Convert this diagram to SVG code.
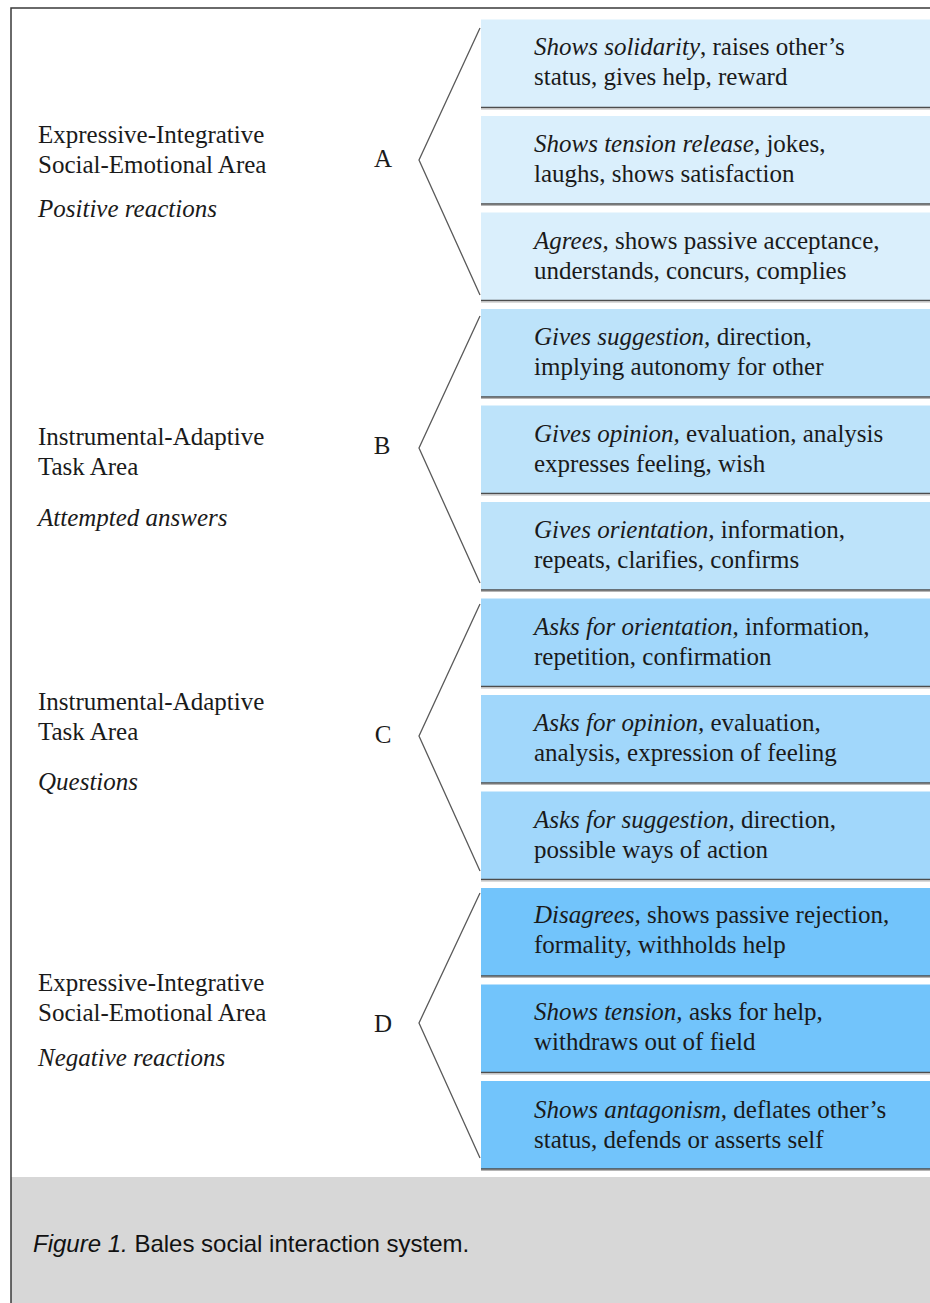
<svg xmlns="http://www.w3.org/2000/svg" width="930" height="1303" viewBox="0 0 930 1303">
<style>
.t{font-family:"Liberation Serif","Times New Roman",serif;font-size:25px;fill:#1a1a1a}
.i{font-style:italic}
.cap{font-family:"Liberation Sans",Arial,sans-serif;font-size:24px;fill:#111}
.sep{stroke:#4d4d4d;stroke-width:1.6}
.sh{stroke:#b5b5b5;stroke-width:1}
.chev{fill:none;stroke:#5a5a5a;stroke-width:1.3}
.fa{fill:#daeffc}.fb{fill:#bde3fa}.fc{fill:#a1d7fb}.fd{fill:#72c4fb}
</style>
<rect x="0" y="0" width="930" height="1303" fill="#ffffff"/>
<rect id="caption-area" x="11" y="1177" width="919" height="126" fill="#d7d7d7"/>
<path d="M11 1303 V8 H930" fill="none" stroke="#3a3a3a" stroke-width="1.5"/>

<g id="connectors">
<polyline class="chev" points="480,28 419,160 480,295"/>
<polyline class="chev" points="480,316 419,448 480,583"/>
<polyline class="chev" points="480,604 419,736 480,871"/>
<polyline class="chev" points="480,893 419,1023 480,1158"/>
</g>

<g id="group-A">
<text class="t" x="38" y="143">Expressive-Integrative</text>
<text class="t" x="38" y="173">Social-Emotional Area</text>
<text class="t i" x="38" y="217">Positive reactions</text>
<text class="t" x="383" y="167" text-anchor="middle">A</text>
</g>
<g id="group-B">
<text class="t" x="38" y="445">Instrumental-Adaptive</text>
<text class="t" x="38" y="475">Task Area</text>
<text class="t i" x="38" y="526">Attempted answers</text>
<text class="t" x="382" y="454" text-anchor="middle">B</text>
</g>
<g id="group-C">
<text class="t" x="38" y="710">Instrumental-Adaptive</text>
<text class="t" x="38" y="740">Task Area</text>
<text class="t i" x="38" y="790">Questions</text>
<text class="t" x="383" y="743" text-anchor="middle">C</text>
</g>
<g id="group-D">
<text class="t" x="38" y="991">Expressive-Integrative</text>
<text class="t" x="38" y="1021">Social-Emotional Area</text>
<text class="t i" x="38" y="1066">Negative reactions</text>
<text class="t" x="383" y="1032" text-anchor="middle">D</text>
</g>

<g id="box-A1">
<rect class="fa" x="481" y="19.5" width="449" height="88"/>
<line class="sep" x1="481" y1="107.5" x2="930" y2="107.5"/><line class="sh" x1="481" y1="109" x2="930" y2="109"/>
<text class="t" x="534" y="55"><tspan class="i">Shows solidarity</tspan>, raises other’s</text>
<text class="t" x="534" y="85">status, gives help, reward</text>
</g>
<g id="box-A2">
<rect class="fa" x="481" y="116" width="449" height="88"/>
<line class="sep" x1="481" y1="204" x2="930" y2="204"/><line class="sh" x1="481" y1="205.5" x2="930" y2="205.5"/>
<text class="t" x="534" y="152"><tspan class="i">Shows tension release,</tspan> jokes,</text>
<text class="t" x="534" y="182">laughs, shows satisfaction</text>
</g>
<g id="box-A3">
<rect class="fa" x="481" y="212.5" width="449" height="88"/>
<line class="sep" x1="481" y1="300.5" x2="930" y2="300.5"/><line class="sh" x1="481" y1="302" x2="930" y2="302"/>
<text class="t" x="534" y="248.5"><tspan class="i">Agrees,</tspan> shows passive acceptance,</text>
<text class="t" x="534" y="278.5">understands, concurs, complies</text>
</g>
<g id="box-B1">
<rect class="fb" x="481" y="309" width="449" height="88"/>
<line class="sep" x1="481" y1="397" x2="930" y2="397"/><line class="sh" x1="481" y1="398.5" x2="930" y2="398.5"/>
<text class="t" x="534" y="345"><tspan class="i">Gives suggestion,</tspan> direction,</text>
<text class="t" x="534" y="375">implying autonomy for other</text>
</g>
<g id="box-B2">
<rect class="fb" x="481" y="405.5" width="449" height="88"/>
<line class="sep" x1="481" y1="493.5" x2="930" y2="493.5"/><line class="sh" x1="481" y1="495" x2="930" y2="495"/>
<text class="t" x="534" y="441.5"><tspan class="i">Gives opinion,</tspan> evaluation, analysis</text>
<text class="t" x="534" y="471.5">expresses feeling, wish</text>
</g>
<g id="box-B3">
<rect class="fb" x="481" y="502" width="449" height="88"/>
<line class="sep" x1="481" y1="590" x2="930" y2="590"/><line class="sh" x1="481" y1="591.5" x2="930" y2="591.5"/>
<text class="t" x="534" y="538"><tspan class="i">Gives orientation,</tspan> information,</text>
<text class="t" x="534" y="568">repeats, clarifies, confirms</text>
</g>
<g id="box-C1">
<rect class="fc" x="481" y="598.5" width="449" height="88"/>
<line class="sep" x1="481" y1="686.5" x2="930" y2="686.5"/><line class="sh" x1="481" y1="688" x2="930" y2="688"/>
<text class="t" x="534" y="634.5"><tspan class="i">Asks for orientation,</tspan> information,</text>
<text class="t" x="534" y="664.5">repetition, confirmation</text>
</g>
<g id="box-C2">
<rect class="fc" x="481" y="695" width="449" height="88"/>
<line class="sep" x1="481" y1="783" x2="930" y2="783"/><line class="sh" x1="481" y1="784.5" x2="930" y2="784.5"/>
<text class="t" x="534" y="731"><tspan class="i">Asks for opinion,</tspan> evaluation,</text>
<text class="t" x="534" y="761">analysis, expression of feeling</text>
</g>
<g id="box-C3">
<rect class="fc" x="481" y="791.5" width="449" height="88"/>
<line class="sep" x1="481" y1="879.5" x2="930" y2="879.5"/><line class="sh" x1="481" y1="881" x2="930" y2="881"/>
<text class="t" x="534" y="827.5"><tspan class="i">Asks for suggestion,</tspan> direction,</text>
<text class="t" x="534" y="857.5">possible ways of action</text>
</g>
<g id="box-D1">
<rect class="fd" x="481" y="888" width="449" height="88"/>
<line class="sep" x1="481" y1="976" x2="930" y2="976"/><line class="sh" x1="481" y1="977.5" x2="930" y2="977.5"/>
<text class="t" x="534" y="923"><tspan class="i">Disagrees,</tspan> shows passive rejection,</text>
<text class="t" x="534" y="953">formality, withholds help</text>
</g>
<g id="box-D2">
<rect class="fd" x="481" y="984.5" width="449" height="88"/>
<line class="sep" x1="481" y1="1072.5" x2="930" y2="1072.5"/><line class="sh" x1="481" y1="1074" x2="930" y2="1074"/>
<text class="t" x="534" y="1020"><tspan class="i">Shows tension,</tspan> asks for help,</text>
<text class="t" x="534" y="1050">withdraws out of field</text>
</g>
<g id="box-D3">
<rect class="fd" x="481" y="1081" width="449" height="88"/>
<line class="sep" x1="481" y1="1169" x2="930" y2="1169"/><line class="sh" x1="481" y1="1170.5" x2="930" y2="1170.5"/>
<text class="t" x="534" y="1118"><tspan class="i">Shows antagonism,</tspan> deflates other’s</text>
<text class="t" x="534" y="1148">status, defends or asserts self</text>
</g>

<g id="caption">
<text class="cap" x="33" y="1252"><tspan font-style="italic">Figure 1.</tspan> Bales social interaction system.</text>
</g>
</svg>
